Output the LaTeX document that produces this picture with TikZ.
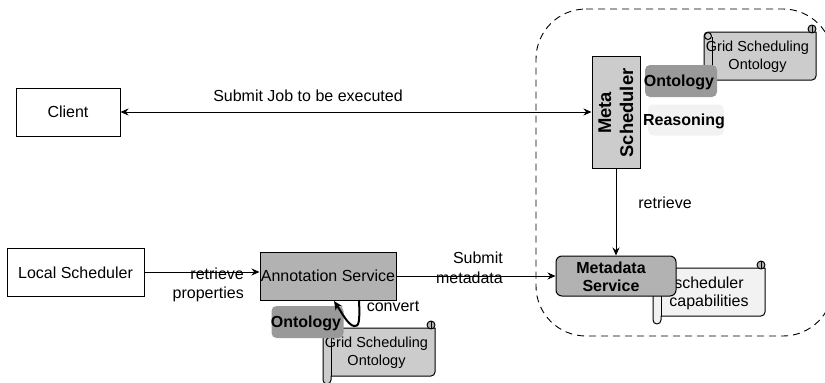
\documentclass[tikz,border=0pt]{standalone}
\usepackage{fontspec}
\setmainfont{Liberation Sans}
\usetikzlibrary{arrows.meta}
\definecolor{boxgray}{gray}{0.8}
\definecolor{midgray}{gray}{0.7}
\definecolor{ontogray}{gray}{0.6}
\definecolor{palegray}{gray}{0.95}
\tikzset{
  x=1pt,y=-1pt,
  every node/.style={font=\fontsize{16}{20}\selectfont,align=center,inner sep=0pt},
  conn/.style={line width=1pt,-{Stealth[length=8pt,width=7pt]}},
  boldt/.style={font=\fontsize{16}{18}\selectfont\bfseries},
  metat/.style={font=\fontsize{18.4}{22}\selectfont\bfseries},
  scrollt/.style={font=\fontsize{14.5}{18}\selectfont},
  capt/.style={font=\fontsize{16}{18}\selectfont},
  scrollline/.style={draw=black,line width=1pt,line join=round}
}
% #1 left, #2 top, #3 fill
\newcommand{\scrollshape}[3]{%
  \begin{scope}[shift={(#1,#2)}]
    \path[scrollline,fill=#3] (0,4) arc[start angle=180,end angle=270,radius=4] -- (112,0)
      -- (112,44) arc[start angle=0,end angle=90,radius=4] -- (8,48) -- (8,52)
      arc[start angle=0,end angle=180,radius=4] -- cycle;
    \draw[line width=1pt] (8,48) -- (8,5);
    \path[scrollline,fill=#3] (4,4) circle[radius=3.5];
    \path[scrollline,fill=midgray] (108,-3) circle[radius=4];
    \draw[line width=.8pt] (108,-7) -- (108,1);
  \end{scope}}
\begin{document}
\begin{tikzpicture}
\useasboundingbox (0,0) rectangle (825,383);
\path[clip] (0,0) rectangle (825,383);
% dashed region
\draw[line width=.9pt,dash pattern=on 7pt off 5pt] (586,9) -- (783,9) arc[start angle=-90,end angle=0,radius=50] -- (833,286)
  arc[start angle=0,end angle=90,radius=50] -- (586,336) arc[start angle=90,end angle=180,radius=50] -- (536,59) arc[start angle=180,end angle=270,radius=50] -- cycle;
% scrolls
\scrollshape{704}{32}{boxgray}
\scrollshape{323}{328}{boxgray}
\scrollshape{653}{268}{palegray}
\node[scrollt] (gso1) at (757.5,57) {Grid Scheduling\\Ontology};
\node[scrollt] (gso2) at (376.5,353) {Grid Scheduling\\Ontology};
\node[capt] (cap) at (709,293) {scheduler\\capabilities};
% boxes
\node[draw,line width=1pt,minimum width=104pt,minimum height=48pt] (client) at (68,112) {Client};
\node[draw,line width=1pt,minimum width=137pt,minimum height=48pt] (local) at (75.5,272) {};
\node (localt) at (75.5,273) {Local Scheduler};
\node[draw,line width=1pt,fill=midgray,minimum width=136pt,minimum height=48pt] (anno) at (328,276) {Annotation Service};
\node[draw,line width=1pt,fill=boxgray,minimum width=48pt,minimum height=112pt] (meta) at (616,112) {};
\node[metat,rotate=90] (metat) at (616,113) {Meta\\Scheduler};
\node[draw,line width=1pt,fill=midgray,rounded corners=6pt,minimum width=120pt,minimum height=40pt] (mds) at (616,276) {};
\node[boldt] (mdst) at (611,277) {Metadata\\Service};
\node[fill=ontogray,rounded corners=5pt,minimum width=72pt,minimum height=32pt] (onto1) at (681,81) {};
\node[boldt] (onto1t) at (679,82) {Ontology};
\node[fill=ontogray,rounded corners=5pt,minimum width=72pt,minimum height=32pt] (onto2) at (307.5,322) {};
\node[boldt] (onto2t) at (306,323) {Ontology};
\node[fill=palegray,rounded corners=5pt,minimum width=76pt,minimum height=31pt] (reason) at (686,120) {};
\node[boldt] (reasont) at (684,121) {Reasoning};
% connectors
\draw[line width=1pt,{Stealth[length=8pt,width=7pt]}-{Stealth[length=8pt,width=7pt]}] (client.east) -- (client.east -| meta.west);
\draw[conn] (local.east) -- (anno.west |- local.east);
\draw[conn] (anno.east) -- (mds.west);
\draw[conn] (meta.south) -- (mds.north);
\coordinate (cs) at (359,300);
\coordinate (ce) at (334,301);
\draw[line width=2pt,-{Stealth[length=9pt,width=8pt]}] (cs) .. controls (360,322) and (359,327) .. (354,326) .. controls (348,325) and (342,313) .. (ce);
% labels
\node (l1) at (308,96) {Submit Job to be executed};
\node[align=right,anchor=east,font=\fontsize{16}{18.5}\selectfont] (l2) at (244,285) {retrieve\\properties};
\node[align=right,anchor=east] (l3) at (503,268) {Submit\\metadata};
\node (l4) at (665,203) {retrieve};
\node (l5) at (393,306) {convert};
\end{tikzpicture}
\end{document}
